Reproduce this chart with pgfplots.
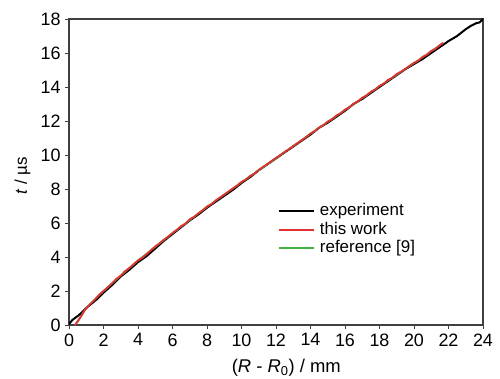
\documentclass[border=0pt]{standalone}
\usepackage{pgfplots}
\pgfplotsset{compat=1.18}
\usepackage{fontspec}
\setmainfont{Liberation Sans}
\definecolor{myred}{HTML}{E03232}
\definecolor{mygreen}{HTML}{44B044}
\begin{document}
\begin{tikzpicture}
\path[use as bounding box] (-69bp,-54bp) rectangle (431bp,325bp);
\begin{axis}[
  at={(0,0)}, anchor=south west,
  scale only axis, width=414bp, height=306bp,
  xmin=0, xmax=24, ymin=0, ymax=18,
  xtick={0,2,...,24}, ytick={0,2,...,18},
  tick align=outside, tick pos=left,
  major tick length=4bp,
  axis line style={black!75, line width=1.1pt},
  every tick/.style={black!75, line width=0.9pt},
  /pgf/number format/assume math mode=true,
  ticklabel style={font=\fontsize{18}{20}\selectfont},
  xticklabel style={yshift=-1bp},
  yticklabel style={xshift=-1bp},
  xlabel={(\textit{R} - \textit{R}\textsubscript{0}) / mm},
  ylabel={\textit{t} / µs},
  xlabel style={font=\fontsize{18.5}{20}\selectfont, at={(axis description cs:0.525,-0.155)}, anchor=base},
  ylabel style={font=\fontsize{17}{20}\selectfont, at={(axis description cs:-0.1015,0.487)}, anchor=base},
  legend style={at={(rel axis cs:0.497,0.404)}, anchor=north west, draw=none, fill=none,
    font=\fontsize{17}{19}\selectfont,
    nodes={inner sep=0pt, text height=12bp, text depth=3.5bp},
    row sep=3bp, column sep=5bp},
  legend cell align=left,
  legend image code/.code={\draw[#1] (0bp,0bp) -- (35bp,0bp);},
]
\addlegendimage{black, line width=2bp}
\addlegendentry{experiment}
\addlegendimage{myred, line width=2bp}
\addlegendentry{this work}
\addlegendimage{mygreen, line width=2bp}
\addlegendentry{reference [9]}
\addplot[black, line width=2bp, forget plot] coordinates {
(0,0.05) (0.2,0.3) (0.4,0.45) (0.6,0.6) (0.8,0.8) (1.0,1.0) (1.3,1.25) (1.6,1.5)
(2.0,1.9) (2.5,2.35) (3.0,2.85) (3.5,3.25) (4.0,3.7) (4.5,4.05) (5.0,4.5) (5.5,4.95)
(6.0,5.35) (6.5,5.75) (7.0,6.15) (7.5,6.5) (8.0,6.9) (8.5,7.25) (9.0,7.6) (9.5,7.95)
(10.0,8.35) (10.5,8.7) (11.0,9.1) (11.5,9.45) (12.0,9.8) (12.5,10.15) (13.0,10.5)
(13.5,10.85) (14.0,11.2) (14.5,11.6) (15.0,11.9) (15.5,12.25) (16.0,12.6) (16.5,13.0)
(17.0,13.3) (17.5,13.65) (18.0,14.0) (18.5,14.35) (19.0,14.7) (19.5,15.05) (20.0,15.35)
(20.5,15.65) (21.0,16.0) (21.5,16.35) (22.0,16.7) (22.5,17.0) (23.0,17.4) (23.3,17.6)
(23.6,17.75) (23.8,17.8) (24.0,18.0)
};
\addplot[mygreen, line width=1.6bp, forget plot] coordinates {
(0.35,0.0) (1.0,1.0) (2.0,2.0) (4.0,3.8) (6.0,5.4) (8.0,6.95) (10.0,8.4) (12.0,9.8)
(14.0,11.25) (16.0,12.65) (18.0,14.05) (20.0,15.4) (21.7,16.6)
};
\addplot[myred, line width=1.8bp, forget plot] coordinates {
(0.35,0.0) (0.5,0.2) (0.7,0.5) (0.9,0.85) (1.1,1.1) (1.3,1.3) (1.5,1.5) (1.75,1.78)
(2.0,2.0) (2.25,2.22) (2.5,2.45) (2.75,2.72) (3.0,2.9) (3.25,3.17) (3.5,3.35) (3.75,3.58)
(4.0,3.8) (4.25,3.95) (4.5,4.17) (4.75,4.4) (5.0,4.62) (5.25,4.8) (5.5,5.02) (5.75,5.2)
(6.0,5.42) (6.25,5.6) (6.5,5.82) (6.75,5.95) (7.0,6.22) (7.25,6.35) (7.5,6.57) (7.75,6.75)
(8.0,6.97) (8.25,7.1) (8.5,7.32) (8.75,7.5) (9.0,7.67) (9.25,7.85) (9.5,8.03) (9.75,8.2)
(10.0,8.42) (10.25,8.55) (10.5,8.77) (10.75,8.9) (11.0,9.12) (11.25,9.3) (11.5,9.47)
(11.75,9.65) (12.0,9.83) (12.25,10.0) (12.5,10.18) (12.75,10.35) (13.0,10.53) (13.25,10.7)
(13.5,10.88) (13.75,11.05) (14.0,11.27) (14.25,11.4) (14.5,11.62) (14.75,11.75) (15.0,11.97)
(15.25,12.1) (15.5,12.32) (15.75,12.45) (16.0,12.67) (16.25,12.8) (16.5,13.02) (16.75,13.15)
(17.0,13.37) (17.25,13.5) (17.5,13.72) (17.75,13.85) (18.0,14.07) (18.25,14.2) (18.5,14.42)
(18.75,14.55) (19.0,14.77) (19.25,14.9) (19.5,15.07) (19.75,15.25) (20.0,15.42) (20.25,15.55)
(20.5,15.77) (20.75,15.9) (21.0,16.12) (21.25,16.25) (21.5,16.47) (21.7,16.6)
};
\end{axis}
\end{tikzpicture}
\end{document}
